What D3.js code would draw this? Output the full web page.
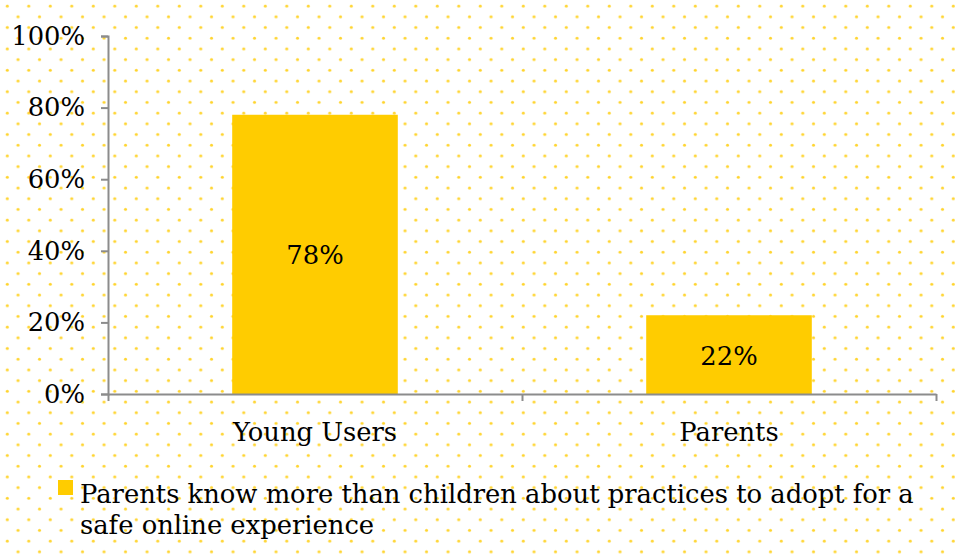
<!DOCTYPE html>
<html>
<head>
<meta charset="utf-8">
<script src="https://cdn.jsdelivr.net/npm/d3@7"></script>
<style>
  html, body { margin: 0; padding: 0; background: #fff; }
  svg { display: block; }
  text { font-family: "DejaVu Serif", serif; fill: #000; }
</style>
</head>
<body>
<div id="chart"></div>
<script>
/* ── Data ── */
const categories = ['Young Users', 'Parents'];
const values     = [0.78, 0.22];
const yTicks     = [0, 0.2, 0.4, 0.6, 0.8, 1];
const legendLines = ['Parents know more than children about practices to adopt for a',
                     'safe online experience'];

/* ── Layout ── */
const W = 955, H = 557;
const X0 = 108, X1 = 936;
const Y0 = 394, Y1 = 36;
const FS = 25.8;
const BAR = '#ffcc00';
const AXIS = '#8c8c8c';

const svg = d3.select('#chart').append('svg')
  .attr('width', W).attr('height', H);

// dotted background
const pat = svg.append('defs').append('pattern')
  .attr('id', 'dots')
  .attr('patternUnits', 'userSpaceOnUse')
  .attr('width', 21.5).attr('height', 21.4);
pat.append('circle').attr('cx', 7.3).attr('cy', 6).attr('r', 1.5).attr('fill', '#ffd42e');
pat.append('circle').attr('cx', 18.05).attr('cy', 16.7).attr('r', 1.5).attr('fill', '#ffd42e');
svg.append('rect').attr('width', W).attr('height', H).attr('fill', 'url(#dots)');

const x = d3.scaleBand().domain(categories).range([X0, X1])
  .paddingInner(0.6).paddingOuter(0.3);
const y = d3.scaleLinear().domain([0, 1]).range([Y0, Y1]);

/* ── Bars ── */
svg.selectAll('.bar')
  .data(values)
  .join('rect')
  .attr('class', 'bar')
  .attr('x', (d, i) => x(categories[i]))
  .attr('y', d => y(d))
  .attr('width', x.bandwidth())
  .attr('height', d => y(0) - y(d))
  .attr('fill', BAR);

svg.selectAll('.val')
  .data(values)
  .join('text')
  .attr('class', 'val')
  .attr('x', (d, i) => x(categories[i]) + x.bandwidth() / 2)
  .attr('y', d => (y(d) + y(0)) / 2 + 10)
  .attr('text-anchor', 'middle')
  .attr('font-size', FS)
  .text(d => d3.format('.0%')(d));

/* ── Y axis ── */
const yAxis = svg.append('g')
  .attr('transform', `translate(${X0},0)`)
  .call(d3.axisLeft(y).tickValues(yTicks).tickFormat(d3.format('.0%'))
    .tickSize(7).tickPadding(16));
yAxis.select('.domain').attr('stroke', AXIS).attr('stroke-width', 2);
yAxis.selectAll('.tick line').attr('stroke', AXIS).attr('stroke-width', 2);
yAxis.selectAll('.tick text').attr('font-size', FS)
  .attr('font-family', '"DejaVu Serif", serif').attr('fill', '#000');

/* ── X axis ── */
const xLin = d3.scaleLinear().domain([0, categories.length]).range([X0, X1]);
const xAxis = svg.append('g')
  .attr('transform', `translate(0,${Y0})`)
  .call(d3.axisBottom(xLin).tickValues(d3.range(categories.length + 1))
    .tickFormat('').tickSize(7).tickSizeOuter(0));
xAxis.select('.domain').attr('stroke', AXIS).attr('stroke-width', 2);
xAxis.selectAll('.tick line').attr('stroke', AXIS).attr('stroke-width', 2);

svg.selectAll('.cat')
  .data(categories)
  .join('text')
  .attr('class', 'cat')
  .attr('x', d => x(d) + x.bandwidth() / 2)
  .attr('y', Y0 + 47)
  .attr('text-anchor', 'middle')
  .attr('font-size', FS)
  .text(d => d);

/* ── Legend ── */
svg.append('rect')
  .attr('x', 58).attr('y', 480).attr('width', 15).attr('height', 15)
  .attr('fill', BAR);
svg.append('text')
  .attr('x', 80).attr('y', 503)
  .attr('font-size', FS)
  .selectAll('tspan')
  .data(legendLines)
  .join('tspan')
  .attr('x', 80)
  .attr('dy', (d, i) => i ? 31 : 0)
  .text(d => d);
</script>
</body>
</html>
